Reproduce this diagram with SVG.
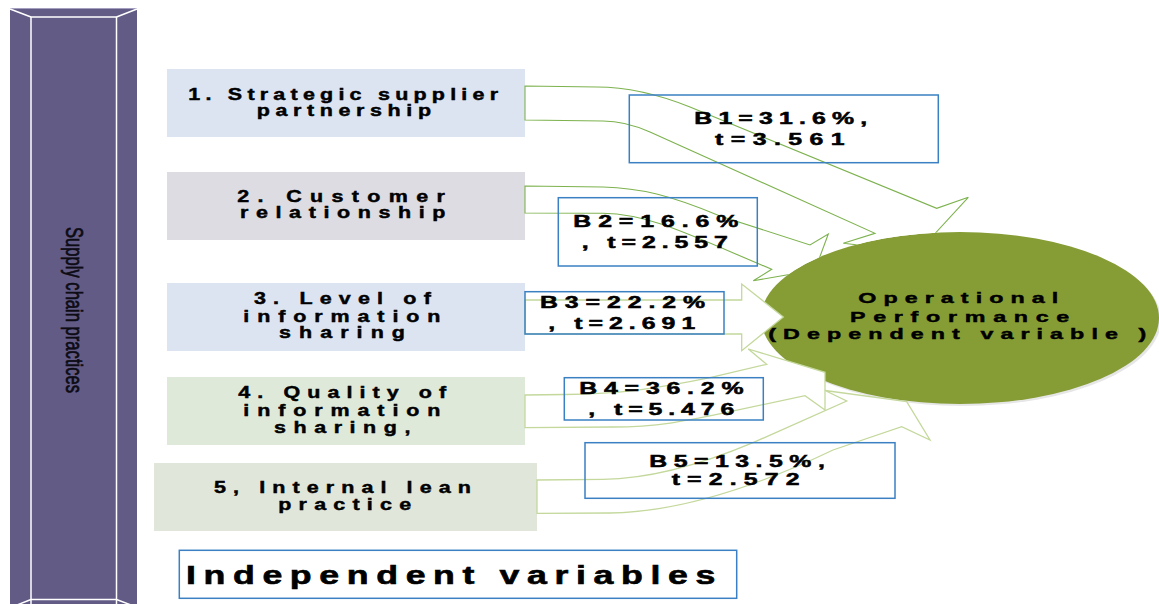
<svg xmlns="http://www.w3.org/2000/svg" width="1159" height="604" viewBox="0 0 1159 604">
  <defs>
    <style>
      .box { stroke: none; }
      .bx { font-family: "Liberation Sans", Arial, sans-serif; font-weight: bold; font-size: 16.5px; fill: #000; stroke: #000; stroke-width: 0.45px; }
      .bt { font-family: "Liberation Sans", Arial, sans-serif; font-weight: bold; font-size: 16px; fill: #000; stroke: #000; stroke-width: 0.5px; }
      .ot { font-family: "Liberation Sans", Arial, sans-serif; font-weight: bold; font-size: 15.5px; fill: #000; stroke: #000; stroke-width: 0.45px; }
      .iv { font-family: "Liberation Sans", Arial, sans-serif; font-weight: bold; font-size: 25.5px; fill: #000; stroke: #000; stroke-width: 0.6px; }
      .coef { fill: none; stroke: #3A80C3; stroke-width: 1.5; }
      .arrowDark { fill: #fff; stroke: #7DB24E; stroke-width: 1.1; }
      .arrowPale { fill: #fff; stroke: #C4D89C; stroke-width: 1.3; }
      .bevel { stroke: #ffffff; stroke-width: 1.5; fill: none; }
    </style>
    <mask id="outsideOval" maskUnits="userSpaceOnUse" x="0" y="0" width="1159" height="604">
      <rect x="0" y="0" width="1159" height="604" fill="#fff"/>
      <ellipse cx="960" cy="318" rx="199" ry="86" fill="#000"/>
    </mask>
  </defs>

  <rect x="0" y="0" width="1159" height="604" fill="#ffffff"/>

  <!-- vertical bevelled banner -->
  <g id="supply-chain-practices">
    <rect x="10" y="8" width="127" height="602" fill="#625B86"/>
    <line x1="10" y1="8.5" x2="137" y2="8.5" stroke="#a49fc0" stroke-width="1"/>
    <path class="bevel" d="M31,604 L31,17 L116.5,17 L116.5,604"/>
    <path class="bevel" d="M31,599.5 L116.5,599.5"/>
    <path class="bevel" d="M10,9 L31,17 M137,9 L116.5,17 M31,599.5 L17,605 M116.5,599.5 L131,605"/>
    <text transform="translate(66,227) rotate(90)" font-family="Liberation Sans, Arial, sans-serif" font-size="24" fill="#0d0b14" stroke="#0d0b14" stroke-width="0.7" textLength="166" lengthAdjust="spacingAndGlyphs">Supply chain practices</text>
  </g>

  <!-- independent variable boxes -->
  <g id="node-1">
    <rect class="box" x="167" y="69" width="358" height="68" fill="#DCE4F2"/>
    <text class="bx" x="188.3" y="100" letter-spacing="4.03" textLength="315" lengthAdjust="spacingAndGlyphs">1. Strategic supplier</text>
    <text class="bx" x="256.7" y="116" letter-spacing="4.34" textLength="180" lengthAdjust="spacingAndGlyphs">partnership</text>
  </g>
  <g id="node-2">
    <rect class="box" x="167" y="172" width="358" height="68" fill="#DDDCE2"/>
    <text class="bx" x="237.3" y="201.5" letter-spacing="6.43" textLength="216" lengthAdjust="spacingAndGlyphs">2. Customer</text>
    <text class="bx" x="240" y="217.5" letter-spacing="5.86" textLength="213" lengthAdjust="spacingAndGlyphs">relationship</text>
  </g>
  <g id="node-3">
    <rect class="box" x="167" y="283" width="358" height="68" fill="#DCE4F2"/>
    <text class="bx" x="254" y="304.3" letter-spacing="5.53" textLength="184" lengthAdjust="spacingAndGlyphs">3. Level of</text>
    <text class="bx" x="243.3" y="321.7" letter-spacing="6.09" textLength="205" lengthAdjust="spacingAndGlyphs">information</text>
    <text class="bx" x="279" y="338.3" letter-spacing="6.21" textLength="134" lengthAdjust="spacingAndGlyphs">sharing</text>
  </g>
  <g id="node-4">
    <rect class="box" x="167" y="377" width="358" height="68" fill="#DFE9DA"/>
    <text class="bx" x="238.3" y="398.3" letter-spacing="5.46" textLength="215" lengthAdjust="spacingAndGlyphs">4. Quality of</text>
    <text class="bx" x="243.3" y="415.7" letter-spacing="6.09" textLength="205" lengthAdjust="spacingAndGlyphs">information</text>
    <text class="bx" x="274" y="433" letter-spacing="5.83" textLength="144" lengthAdjust="spacingAndGlyphs">sharing,</text>
  </g>
  <g id="node-5">
    <rect class="box" x="154" y="463" width="383" height="68" fill="#E1E6DB"/>
    <text class="bx" x="214" y="492.7" letter-spacing="5.46" textLength="264" lengthAdjust="spacingAndGlyphs">5, Internal lean</text>
    <text class="bx" x="278.3" y="509.5" letter-spacing="5.55" textLength="140" lengthAdjust="spacingAndGlyphs">practice</text>
  </g>

  <!-- dependent variable -->
  <g id="node-operational-performance">
    <ellipse cx="962" cy="320" rx="199" ry="86" fill="#dcdcdc" opacity="0.7"/>
    <ellipse cx="960" cy="318" rx="199" ry="86" fill="#869C35"/>
    <text class="ot" x="858.3" y="303.3" letter-spacing="4.72" textLength="207" lengthAdjust="spacingAndGlyphs">Operational</text>
    <text class="ot" x="850" y="321.7" letter-spacing="5.14" textLength="227" lengthAdjust="spacingAndGlyphs">Performance</text>
    <text class="ot" x="768.3" y="338.5" letter-spacing="4.72" textLength="385" lengthAdjust="spacingAndGlyphs">(Dependent variable )</text>
  </g>

  <!-- curved block arrows from each practice to the oval -->
  <g id="connectors">
    <path class="arrowDark" mask="url(#outsideOval)" d="M525,86 L597,87 Q640,87 690,107 L936.7,208.3 L968.3,197.3 L918,252 L843.3,243.3 L875,233.3 L650,132 Q625,121 603,121 L525,120 Z"/>
    <path class="arrowDark" mask="url(#outsideOval)" d="M525,186 L603,187 C640,188 670,195 720,216 L810,245 L828.3,234 L815,270 L753.3,280.7 L771.7,269.3 C690,235 650,214 603,213.3 L525,213 Z"/>
    <path class="arrowPale" d="M525,300 L741.7,300 L741.7,284 L783.3,317 L741.7,350.7 L741.7,334 L525,334 Z"/>
    <path class="arrowPale" d="M525,395 L565,394.5 C620,394 660,388 710,377.7 L766.7,364.3 L748.3,349 L825,372.3 L825,410 L805,395.7 L730,411.7 C690,420 660,427 613,427 L525,427.7 Z"/>
    <path class="arrowPale" d="M537,480 L603,479.3 C650,479 700,465 753,442.7 L846.7,401 L825,390.5 L906.7,401.7 L930,440 L901.7,426.7 L833,450 C760,485 680,512 610,513 L537,513.3 Z"/>
  </g>

  <!-- path coefficients -->
  <g id="label-b1">
    <rect class="coef" x="629.3" y="95" width="309" height="67.7"/>
    <text class="bt" x="694.3" y="124.3" letter-spacing="3.99" textLength="179" lengthAdjust="spacingAndGlyphs">B1=31.6%,</text>
    <text class="bt" x="715" y="145" letter-spacing="4.81" textLength="137" lengthAdjust="spacingAndGlyphs">t=3.561</text>
  </g>
  <g id="label-b2">
    <rect class="coef" x="558.3" y="197.7" width="199" height="68.3"/>
    <text class="bt" x="573.3" y="227.3" letter-spacing="4.47" textLength="172" lengthAdjust="spacingAndGlyphs">B2=16.6%</text>
    <text class="bt" x="581.7" y="248.3" letter-spacing="3.83" textLength="152" lengthAdjust="spacingAndGlyphs">, t=2.557</text>
  </g>
  <g id="label-b3">
    <rect class="coef" x="525" y="291.7" width="199" height="42.3"/>
    <text class="bt" x="540" y="308.3" letter-spacing="4.47" textLength="172" lengthAdjust="spacingAndGlyphs">B3=22.2%</text>
    <text class="bt" x="548.3" y="329.3" letter-spacing="3.9" textLength="153" lengthAdjust="spacingAndGlyphs">, t=2.691</text>
  </g>
  <g id="label-b4">
    <rect class="coef" x="564.3" y="377.7" width="199" height="42.3"/>
    <text class="bt" x="579.3" y="394.3" letter-spacing="4.39" textLength="171" lengthAdjust="spacingAndGlyphs">B4=36.2%</text>
    <text class="bt" x="588.3" y="415" letter-spacing="3.83" textLength="152" lengthAdjust="spacingAndGlyphs">, t=5.476</text>
  </g>
  <g id="label-b5">
    <rect class="coef" x="585" y="442.7" width="310" height="55.6"/>
    <text class="bt" x="649.3" y="466.7" letter-spacing="4.2" textLength="182" lengthAdjust="spacingAndGlyphs">B5=13.5%,</text>
    <text class="bt" x="671.7" y="485" letter-spacing="4.63" textLength="135" lengthAdjust="spacingAndGlyphs">t=2.572</text>
  </g>

  <!-- caption box -->
  <g id="independent-variables">
    <rect x="179.3" y="550.3" width="557.4" height="48" fill="#fff" stroke="#3A80C3" stroke-width="1.5"/>
    <text class="iv" x="186" y="583.5" letter-spacing="5.44" textLength="537" lengthAdjust="spacingAndGlyphs">Independent variables</text>
  </g>
</svg>
